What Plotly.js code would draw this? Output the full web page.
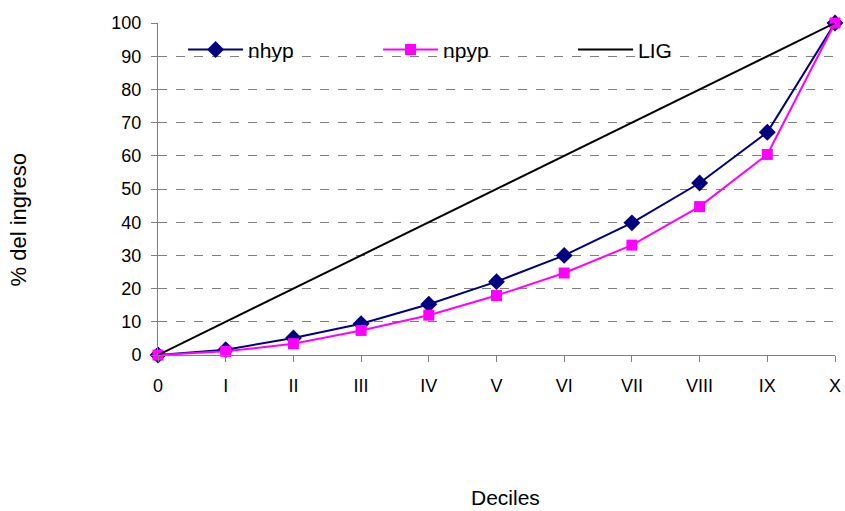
<!DOCTYPE html>
<html>
<head>
<meta charset="utf-8">
<script src="https://cdn.plot.ly/plotly-3.0.1.min.js"></script>
<style>html,body{margin:0;padding:0;background:#fff;}#chart{width:845px;height:511px;}</style>
</head>
<body>
<div id="chart"></div>
<script>
const deciles = ["0","I","II","III","IV","V","VI","VII","VIII","IX","X"];
const nhyp = [0, 1.6, 5.1, 9.4, 15.3, 22.1, 30.0, 39.8, 51.8, 67.1, 100];
const npyp = [0, 1.1, 3.4, 7.4, 12.0, 17.9, 24.7, 33.1, 44.7, 60.4, 100];
const lig  = [0, 10, 20, 30, 40, 50, 60, 70, 80, 90, 100];
const yTicks = [0,10,20,30,40,50,60,70,80,90,100];

const font = "Liberation Sans, Arial, sans-serif";
const xs = deciles.map((d,i)=>i);

const traces = [
  {x: xs, y: nhyp, name: "nhyp", mode: "lines+markers", cliponaxis: false,
   line: {color: "#000080", width: 2}, marker: {symbol: "diamond", size: 13, color: "#000080"}},
  {x: xs, y: npyp, name: "npyp", mode: "lines+markers", cliponaxis: false,
   line: {color: "#FF00FF", width: 2}, marker: {symbol: "square", size: 11, color: "#FF00FF"}},
  {x: xs, y: lig, name: "LIG", mode: "lines", cliponaxis: false,
   line: {color: "#000000", width: 2}}
];

const layout = {
  width: 845, height: 511,
  margin: {l: 158, r: 10, t: 23, b: 156},
  paper_bgcolor: "#fff", plot_bgcolor: "#fff",
  font: {family: font, size: 18, color: "#000"},
  showlegend: true,
  legend: {orientation: "h", x: 0.037, y: 0.919, xanchor: "left", yanchor: "middle",
           itemwidth: 55, entrywidth: 125, entrywidthmode: "pixels",
           font: {family: font, size: 21, color: "#000"},
           bgcolor: "rgba(0,0,0,0)", traceorder: "normal"},
  xaxis: {range: [0, 10], tickmode: "array", tickvals: xs, ticktext: deciles,
          showgrid: false, zeroline: false, showline: true, linecolor: "#808080", linewidth: 1,
          ticks: "outside", ticklen: 6, tickcolor: "#808080", ticklabelstandoff: 8, fixedrange: true,
          tickfont: {family: font, size: 18, color: "#000"}},
  yaxis: {range: [0, 100], tickmode: "array", tickvals: yTicks,
          showgrid: true, gridcolor: "#808080", griddash: "dash", gridwidth: 1,
          zeroline: false, showline: true, linecolor: "#808080", linewidth: 1,
          ticks: "outside", ticklen: 6, tickcolor: "#808080", ticklabelstandoff: 6, fixedrange: true,
          tickfont: {family: font, size: 18, color: "#000"}},
  annotations: [
    {text: "% del ingreso", xref: "paper", yref: "paper", x: -0.206, y: 0.407, xanchor: "center", yanchor: "middle",
     textangle: -90, showarrow: false, font: {family: font, size: 22, color: "#000"}},
    {text: "Deciles", xref: "paper", yref: "paper", x: 0.514, y: -0.43, xanchor: "center", yanchor: "middle",
     showarrow: false, font: {family: font, size: 21, color: "#000"}}
  ]
};

Plotly.newPlot("chart", traces, layout, {displayModeBar: false, staticPlot: true});
</script>
</body>
</html>
